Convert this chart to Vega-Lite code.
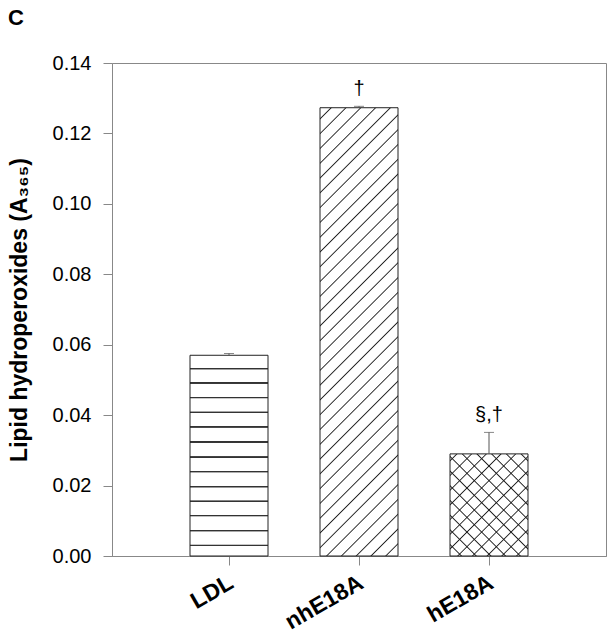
{
  "$schema": "https://vega.github.io/schema/vega-lite/v6.json",
  "width": 494,
  "height": 493,
  "autosize": {"type": "none"},
  "padding": {"left": 112, "top": 63, "right": 6, "bottom": 82},
  "background": "white",
  "title": {"text": "C", "anchor": "start", "frame": "group", "fontSize": 22, "fontWeight": "bold", "font": "Liberation Sans", "color": "black", "dx": -104, "offset": 6, "baseline": "alphabetic"},
  "config": {"view": {"stroke": "#888", "strokeWidth": 1}, "font": "Liberation Sans"},
  "data": {"values": [
    {"group": "LDL", "value": 0.057, "upper": 0.0575, "sig": ""},
    {"group": "nhE18A", "value": 0.1273, "upper": 0.1277, "sig": "†"},
    {"group": "hE18A", "value": 0.029, "upper": 0.0351, "sig": "§,†"}
  ]},
  "encoding": {
    "x": {"field": "group", "type": "nominal", "sort": ["LDL", "nhE18A", "hE18A"],
      "scale": {"domain": ["LDL", "nhE18A", "hE18A"], "paddingInner": 0.4, "paddingOuter": 0.6},
      "axis": {"title": null, "labelAngle": -30, "labelAlign": "right", "labelBaseline": "top", "labelFont": "Liberation Sans", "labelFontSize": 23, "labelFontWeight": "bold", "labelColor": "black", "labelPadding": 6, "labelOffset": -3, "tickSize": 9, "tickColor": "#888", "domainColor": "#888", "grid": false}
    }
  },
  "layer": [
    {
      "transform": [{"filter": "datum.group == 'LDL'"}],
      "mark": {"type": "bar", "stroke": "#222", "strokeWidth": 1,
        "fill": {"gradient": "linear", "x1": 0, "y1": 0, "x2": 0, "y2": 1, "stops": [
          {"offset": 0, "color": "white"},
          {"offset": 0.062, "color": "white"}, {"offset": 0.0645, "color": "#333"}, {"offset": 0.0695, "color": "#333"}, {"offset": 0.072, "color": "white"},
          {"offset": 0.133, "color": "white"}, {"offset": 0.1355, "color": "#333"}, {"offset": 0.1405, "color": "#333"}, {"offset": 0.143, "color": "white"},
          {"offset": 0.206, "color": "white"}, {"offset": 0.2085, "color": "#333"}, {"offset": 0.2135, "color": "#333"}, {"offset": 0.216, "color": "white"},
          {"offset": 0.279, "color": "white"}, {"offset": 0.2815, "color": "#333"}, {"offset": 0.2865, "color": "#333"}, {"offset": 0.289, "color": "white"},
          {"offset": 0.352, "color": "white"}, {"offset": 0.3545, "color": "#333"}, {"offset": 0.3595, "color": "#333"}, {"offset": 0.362, "color": "white"},
          {"offset": 0.427, "color": "white"}, {"offset": 0.4295, "color": "#333"}, {"offset": 0.4345, "color": "#333"}, {"offset": 0.437, "color": "white"},
          {"offset": 0.502, "color": "white"}, {"offset": 0.5045, "color": "#333"}, {"offset": 0.5095, "color": "#333"}, {"offset": 0.512, "color": "white"},
          {"offset": 0.575, "color": "white"}, {"offset": 0.5775, "color": "#333"}, {"offset": 0.5825, "color": "#333"}, {"offset": 0.585, "color": "white"},
          {"offset": 0.650, "color": "white"}, {"offset": 0.6525, "color": "#333"}, {"offset": 0.6575, "color": "#333"}, {"offset": 0.660, "color": "white"},
          {"offset": 0.722, "color": "white"}, {"offset": 0.7245, "color": "#333"}, {"offset": 0.7295, "color": "#333"}, {"offset": 0.732, "color": "white"},
          {"offset": 0.794, "color": "white"}, {"offset": 0.7965, "color": "#333"}, {"offset": 0.8015, "color": "#333"}, {"offset": 0.804, "color": "white"},
          {"offset": 0.869, "color": "white"}, {"offset": 0.8715, "color": "#333"}, {"offset": 0.8765, "color": "#333"}, {"offset": 0.879, "color": "white"},
          {"offset": 0.942, "color": "white"}, {"offset": 0.9445, "color": "#333"}, {"offset": 0.9495, "color": "#333"}, {"offset": 0.952, "color": "white"},
          {"offset": 1, "color": "white"}
        ]}},
      "encoding": {
        "y": {"field": "value", "type": "quantitative", "scale": {"domain": [0, 0.14], "nice": false},
          "axis": {"title": "Lipid hydroperoxides (A₃₆₅)", "titleFont": "Liberation Sans", "titleFontSize": 23, "titleFontWeight": "bold", "titleColor": "black", "titlePadding": 21,
            "values": [0, 0.02, 0.04, 0.06, 0.08, 0.1, 0.12, 0.14], "format": ".2f", "labelFont": "Liberation Sans", "labelFontSize": 20, "labelColor": "black", "labelPadding": 12, "tickSize": 9, "tickColor": "#888", "domainColor": "#888", "grid": false}}
      }
    },
    {
      "transform": [{"filter": "datum.group == 'nhE18A'"}],
      "mark": {"type": "bar", "stroke": "#222", "strokeWidth": 1,
        "fill": {"gradient": "linear", "x1": 0, "y1": 0, "x2": 0.1982, "y2": 1.1394, "stops": [
          {"offset": 0, "color": "white"},
          {"offset": 0.0188, "color": "white"}, {"offset": 0.0213, "color": "#222"}, {"offset": 0.0238, "color": "white"},
          {"offset": 0.0469, "color": "white"}, {"offset": 0.0494, "color": "#222"}, {"offset": 0.0519, "color": "white"},
          {"offset": 0.0750, "color": "white"}, {"offset": 0.0775, "color": "#222"}, {"offset": 0.0800, "color": "white"},
          {"offset": 0.1031, "color": "white"}, {"offset": 0.1056, "color": "#222"}, {"offset": 0.1081, "color": "white"},
          {"offset": 0.1312, "color": "white"}, {"offset": 0.1337, "color": "#222"}, {"offset": 0.1362, "color": "white"},
          {"offset": 0.1593, "color": "white"}, {"offset": 0.1618, "color": "#222"}, {"offset": 0.1643, "color": "white"},
          {"offset": 0.1874, "color": "white"}, {"offset": 0.1899, "color": "#222"}, {"offset": 0.1924, "color": "white"},
          {"offset": 0.2155, "color": "white"}, {"offset": 0.2180, "color": "#222"}, {"offset": 0.2205, "color": "white"},
          {"offset": 0.2436, "color": "white"}, {"offset": 0.2461, "color": "#222"}, {"offset": 0.2486, "color": "white"},
          {"offset": 0.2717, "color": "white"}, {"offset": 0.2742, "color": "#222"}, {"offset": 0.2767, "color": "white"},
          {"offset": 0.2998, "color": "white"}, {"offset": 0.3023, "color": "#222"}, {"offset": 0.3048, "color": "white"},
          {"offset": 0.3279, "color": "white"}, {"offset": 0.3304, "color": "#222"}, {"offset": 0.3329, "color": "white"},
          {"offset": 0.3560, "color": "white"}, {"offset": 0.3585, "color": "#222"}, {"offset": 0.3610, "color": "white"},
          {"offset": 0.3841, "color": "white"}, {"offset": 0.3866, "color": "#222"}, {"offset": 0.3891, "color": "white"},
          {"offset": 0.4122, "color": "white"}, {"offset": 0.4147, "color": "#222"}, {"offset": 0.4172, "color": "white"},
          {"offset": 0.4403, "color": "white"}, {"offset": 0.4428, "color": "#222"}, {"offset": 0.4453, "color": "white"},
          {"offset": 0.4685, "color": "white"}, {"offset": 0.4710, "color": "#222"}, {"offset": 0.4735, "color": "white"},
          {"offset": 0.4966, "color": "white"}, {"offset": 0.4991, "color": "#222"}, {"offset": 0.5016, "color": "white"},
          {"offset": 0.5247, "color": "white"}, {"offset": 0.5272, "color": "#222"}, {"offset": 0.5297, "color": "white"},
          {"offset": 0.5528, "color": "white"}, {"offset": 0.5553, "color": "#222"}, {"offset": 0.5578, "color": "white"},
          {"offset": 0.5809, "color": "white"}, {"offset": 0.5834, "color": "#222"}, {"offset": 0.5859, "color": "white"},
          {"offset": 0.6090, "color": "white"}, {"offset": 0.6115, "color": "#222"}, {"offset": 0.6140, "color": "white"},
          {"offset": 0.6371, "color": "white"}, {"offset": 0.6396, "color": "#222"}, {"offset": 0.6421, "color": "white"},
          {"offset": 0.6652, "color": "white"}, {"offset": 0.6677, "color": "#222"}, {"offset": 0.6702, "color": "white"},
          {"offset": 0.6933, "color": "white"}, {"offset": 0.6958, "color": "#222"}, {"offset": 0.6983, "color": "white"},
          {"offset": 0.7214, "color": "white"}, {"offset": 0.7239, "color": "#222"}, {"offset": 0.7264, "color": "white"},
          {"offset": 0.7495, "color": "white"}, {"offset": 0.7520, "color": "#222"}, {"offset": 0.7545, "color": "white"},
          {"offset": 0.7776, "color": "white"}, {"offset": 0.7801, "color": "#222"}, {"offset": 0.7826, "color": "white"},
          {"offset": 0.8057, "color": "white"}, {"offset": 0.8082, "color": "#222"}, {"offset": 0.8107, "color": "white"},
          {"offset": 0.8338, "color": "white"}, {"offset": 0.8363, "color": "#222"}, {"offset": 0.8388, "color": "white"},
          {"offset": 0.8619, "color": "white"}, {"offset": 0.8644, "color": "#222"}, {"offset": 0.8669, "color": "white"},
          {"offset": 0.8900, "color": "white"}, {"offset": 0.8925, "color": "#222"}, {"offset": 0.8950, "color": "white"},
          {"offset": 0.9181, "color": "white"}, {"offset": 0.9206, "color": "#222"}, {"offset": 0.9231, "color": "white"},
          {"offset": 0.9462, "color": "white"}, {"offset": 0.9487, "color": "#222"}, {"offset": 0.9512, "color": "white"},
          {"offset": 0.9743, "color": "white"}, {"offset": 0.9768, "color": "#222"}, {"offset": 0.9793, "color": "white"},
          {"offset": 1, "color": "white"}
        ]}},
      "encoding": {"y": {"field": "value", "type": "quantitative"}}
    },
    {
      "transform": [{"filter": "datum.group == 'hE18A'"}],
      "mark": {"type": "bar", "stroke": "#222", "strokeWidth": 1,
        "fill": {"gradient": "linear", "x1": 0, "y1": 0, "x2": 0.8503, "y2": 1.1142, "stops": [
          {"offset": 0, "color": "white"},
          {"offset": 0.0316, "color": "white"}, {"offset": 0.0388, "color": "#222"}, {"offset": 0.0460, "color": "white"},
          {"offset": 0.1132, "color": "white"}, {"offset": 0.1204, "color": "#222"}, {"offset": 0.1276, "color": "white"},
          {"offset": 0.1948, "color": "white"}, {"offset": 0.2020, "color": "#222"}, {"offset": 0.2092, "color": "white"},
          {"offset": 0.2764, "color": "white"}, {"offset": 0.2836, "color": "#222"}, {"offset": 0.2908, "color": "white"},
          {"offset": 0.3579, "color": "white"}, {"offset": 0.3651, "color": "#222"}, {"offset": 0.3723, "color": "white"},
          {"offset": 0.4395, "color": "white"}, {"offset": 0.4467, "color": "#222"}, {"offset": 0.4539, "color": "white"},
          {"offset": 0.5211, "color": "white"}, {"offset": 0.5283, "color": "#222"}, {"offset": 0.5355, "color": "white"},
          {"offset": 0.6027, "color": "white"}, {"offset": 0.6099, "color": "#222"}, {"offset": 0.6171, "color": "white"},
          {"offset": 0.6843, "color": "white"}, {"offset": 0.6915, "color": "#222"}, {"offset": 0.6987, "color": "white"},
          {"offset": 0.7658, "color": "white"}, {"offset": 0.7730, "color": "#222"}, {"offset": 0.7802, "color": "white"},
          {"offset": 0.8474, "color": "white"}, {"offset": 0.8546, "color": "#222"}, {"offset": 0.8618, "color": "white"},
          {"offset": 0.9290, "color": "white"}, {"offset": 0.9362, "color": "#222"}, {"offset": 0.9434, "color": "white"},
          {"offset": 1, "color": "white"}
        ]}},
      "encoding": {"y": {"field": "value", "type": "quantitative"}}
    },
    {
      "transform": [{"filter": "datum.group == 'hE18A'"}],
      "mark": {"type": "bar", "strokeWidth": 0,
        "fill": {"gradient": "linear", "x1": 1, "y1": 0, "x2": 0.1497, "y2": 1.1142, "stops": [
          {"offset": 0, "color": "rgba(0,0,0,0)"},
          {"offset": 0.0316, "color": "rgba(0,0,0,0)"}, {"offset": 0.0388, "color": "#222"}, {"offset": 0.0460, "color": "rgba(0,0,0,0)"},
          {"offset": 0.1132, "color": "rgba(0,0,0,0)"}, {"offset": 0.1204, "color": "#222"}, {"offset": 0.1276, "color": "rgba(0,0,0,0)"},
          {"offset": 0.1948, "color": "rgba(0,0,0,0)"}, {"offset": 0.2020, "color": "#222"}, {"offset": 0.2092, "color": "rgba(0,0,0,0)"},
          {"offset": 0.2764, "color": "rgba(0,0,0,0)"}, {"offset": 0.2836, "color": "#222"}, {"offset": 0.2908, "color": "rgba(0,0,0,0)"},
          {"offset": 0.3579, "color": "rgba(0,0,0,0)"}, {"offset": 0.3651, "color": "#222"}, {"offset": 0.3723, "color": "rgba(0,0,0,0)"},
          {"offset": 0.4395, "color": "rgba(0,0,0,0)"}, {"offset": 0.4467, "color": "#222"}, {"offset": 0.4539, "color": "rgba(0,0,0,0)"},
          {"offset": 0.5211, "color": "rgba(0,0,0,0)"}, {"offset": 0.5283, "color": "#222"}, {"offset": 0.5355, "color": "rgba(0,0,0,0)"},
          {"offset": 0.6027, "color": "rgba(0,0,0,0)"}, {"offset": 0.6099, "color": "#222"}, {"offset": 0.6171, "color": "rgba(0,0,0,0)"},
          {"offset": 0.6843, "color": "rgba(0,0,0,0)"}, {"offset": 0.6915, "color": "#222"}, {"offset": 0.6987, "color": "rgba(0,0,0,0)"},
          {"offset": 0.7658, "color": "rgba(0,0,0,0)"}, {"offset": 0.7730, "color": "#222"}, {"offset": 0.7802, "color": "rgba(0,0,0,0)"},
          {"offset": 0.8474, "color": "rgba(0,0,0,0)"}, {"offset": 0.8546, "color": "#222"}, {"offset": 0.8618, "color": "rgba(0,0,0,0)"},
          {"offset": 0.9290, "color": "rgba(0,0,0,0)"}, {"offset": 0.9362, "color": "#222"}, {"offset": 0.9434, "color": "rgba(0,0,0,0)"},
          {"offset": 1, "color": "rgba(0,0,0,0)"}
        ]}},
      "encoding": {"y": {"field": "value", "type": "quantitative"}}
    },
    {
      "mark": {"type": "rule", "color": "#555", "strokeWidth": 1},
      "encoding": {"y": {"field": "value", "type": "quantitative"}, "y2": {"field": "upper"}}
    },
    {
      "mark": {"type": "tick", "color": "#555", "thickness": 1, "size": 10, "orient": "horizontal"},
      "encoding": {"y": {"field": "upper", "type": "quantitative"}}
    },
    {
      "mark": {"type": "text", "font": "Liberation Sans", "fontSize": 20, "color": "black", "baseline": "bottom", "dy": -7},
      "encoding": {"y": {"field": "upper", "type": "quantitative"}, "text": {"field": "sig"}}
    }
  ]
}
